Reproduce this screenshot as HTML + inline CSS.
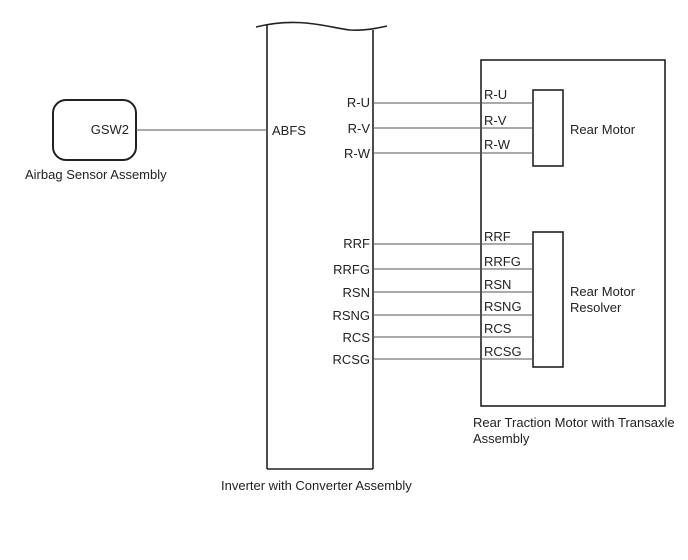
<!DOCTYPE html>
<html><head><style>body{margin:0;background:#fff}svg{display:block}text{font-family:"Liberation Sans",Arial,sans-serif;font-size:13px;fill:#222}</style></head>
<body>
<svg width="688" height="560" viewBox="0 0 688 560" xmlns="http://www.w3.org/2000/svg">
<g stroke="#222" fill="none" stroke-width="1.6">
<path d="M256 27 C300 16 330 28 350 30 C365 31 378 28 387 26"/>
<line x1="267" y1="24" x2="267" y2="469"/>
<line x1="373" y1="30" x2="373" y2="469"/>
<line x1="267" y1="469" x2="373" y2="469"/>
<rect x="53" y="100" width="83" height="60" rx="13" stroke-width="2"/>
<rect x="481" y="60" width="184" height="346"/>
<rect x="533" y="90" width="30" height="76"/>
<rect x="533" y="232" width="30" height="135"/>
</g>
<g stroke="#555" stroke-width="1">
<line x1="136" y1="130" x2="267" y2="130"/>
<line x1="373" y1="103" x2="533" y2="103"/>
<line x1="373" y1="128" x2="533" y2="128"/>
<line x1="373" y1="153" x2="533" y2="153"/>
<line x1="373" y1="244" x2="533" y2="244"/>
<line x1="373" y1="269" x2="533" y2="269"/>
<line x1="373" y1="292" x2="533" y2="292"/>
<line x1="373" y1="315" x2="533" y2="315"/>
<line x1="373" y1="337" x2="533" y2="337"/>
<line x1="373" y1="359" x2="533" y2="359"/>
</g>
<text x="129" y="134" text-anchor="end">GSW2</text>
<text x="25" y="179">Airbag Sensor Assembly</text>
<text x="272" y="135">ABFS</text>
<g text-anchor="end">
<text x="370" y="107">R-U</text>
<text x="370" y="133">R-V</text>
<text x="370" y="158">R-W</text>
<text x="370" y="248">RRF</text>
<text x="370" y="274">RRFG</text>
<text x="370" y="297">RSN</text>
<text x="370" y="320">RSNG</text>
<text x="370" y="342">RCS</text>
<text x="370" y="364">RCSG</text>
</g>
<text x="484" y="99">R-U</text>
<text x="484" y="125">R-V</text>
<text x="484" y="149">R-W</text>
<text x="484" y="241">RRF</text>
<text x="484" y="266">RRFG</text>
<text x="484" y="289">RSN</text>
<text x="484" y="311">RSNG</text>
<text x="484" y="333">RCS</text>
<text x="484" y="356">RCSG</text>
<text x="570" y="134">Rear Motor</text>
<text x="570" y="296">Rear Motor</text>
<text x="570" y="312">Resolver</text>
<text x="473" y="427">Rear Traction Motor with Transaxle</text>
<text x="473" y="443">Assembly</text>
<text x="221" y="490">Inverter with Converter Assembly</text>
</svg>
</body></html>
